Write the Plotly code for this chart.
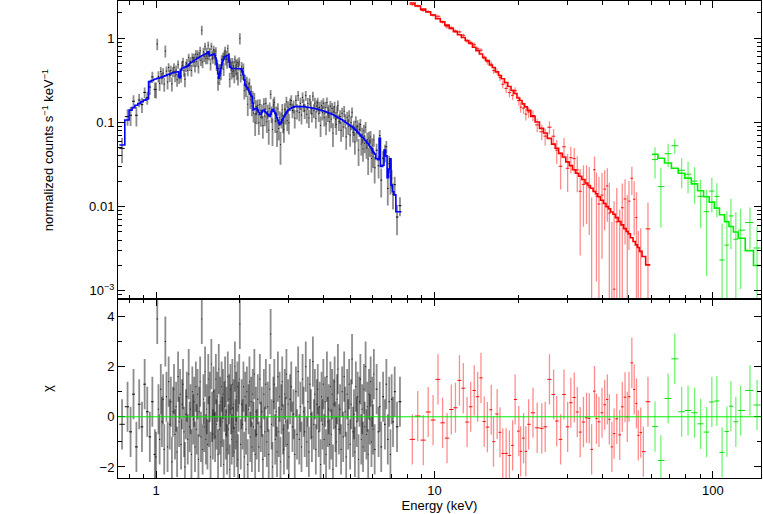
import numpy as np
import plotly.graph_objects as go
from plotly.subplots import make_subplots

# ---- low-energy instrument (black data, blue model)
black_energy = [
    0.755, 0.79, 0.81, 0.83, 0.85, 0.87, 0.89, 0.91, 0.93, 0.95, 0.97, 0.99,
    1.00, 1.01, 1.02, 1.03, 1.04, 1.05, 1.06, 1.07, 1.08, 1.09,
    1.10, 1.11, 1.12, 1.13, 1.14, 1.15, 1.16, 1.17, 1.18, 1.19,
    1.20, 1.21, 1.22, 1.23, 1.24, 1.25, 1.26, 1.27, 1.28, 1.29,
    1.30, 1.31, 1.32, 1.33, 1.34, 1.35, 1.36, 1.37, 1.38, 1.39,
    1.40, 1.41, 1.42, 1.43, 1.44, 1.45, 1.46, 1.47, 1.48, 1.49,
    1.50, 1.51, 1.52, 1.53, 1.54, 1.55, 1.56, 1.57, 1.58, 1.59,
    1.60, 1.61, 1.62, 1.63, 1.64, 1.65, 1.66, 1.67, 1.68, 1.69,
    1.70, 1.71, 1.72, 1.73, 1.74, 1.75, 1.76, 1.77, 1.78, 1.79,
    1.80, 1.81, 1.82, 1.83, 1.84, 1.85, 1.86, 1.87, 1.88, 1.89,
    1.90, 1.91, 1.92, 1.93, 1.94, 1.95, 1.96, 1.97, 1.98, 1.99,
    2.00,
    2.015, 2.03, 2.045, 2.06, 2.075, 2.09, 2.105, 2.12, 2.135, 2.15,
    2.165, 2.18, 2.195, 2.21, 2.225, 2.24, 2.255, 2.27, 2.285, 2.30,
    2.32, 2.34, 2.36, 2.38, 2.40, 2.42, 2.44, 2.46, 2.48, 2.50,
    2.52, 2.54, 2.56, 2.58, 2.60, 2.62, 2.64, 2.66, 2.68, 2.70,
    2.72, 2.74, 2.76, 2.78, 2.80, 2.82, 2.84, 2.86, 2.88, 2.90,
    2.92, 2.94, 2.96, 2.98, 3.00,
    3.03, 3.06, 3.09, 3.12, 3.15, 3.18, 3.21, 3.24, 3.27, 3.30,
    3.33, 3.36, 3.39, 3.42, 3.45, 3.48, 3.51, 3.54, 3.57, 3.60,
    3.63, 3.66, 3.69, 3.72, 3.75, 3.78, 3.81, 3.84, 3.87, 3.90,
    3.93, 3.96, 3.99, 4.02, 4.05, 4.08, 4.11, 4.14, 4.17, 4.20,
    4.23, 4.26, 4.29, 4.32, 4.35, 4.38, 4.41, 4.44, 4.47, 4.50,
    4.54, 4.58, 4.62, 4.66, 4.70, 4.74, 4.78, 4.82, 4.86, 4.90,
    4.94, 4.98, 5.02, 5.06, 5.10, 5.14, 5.18, 5.22, 5.26, 5.30,
    5.34, 5.38, 5.42, 5.46, 5.50, 5.54, 5.58, 5.62, 5.66, 5.70,
    5.74, 5.78, 5.82, 5.86, 5.90, 5.94, 5.98, 6.02, 6.06, 6.10,
    6.20, 6.30, 6.36, 6.44, 6.54, 6.64, 6.72, 6.80, 6.88, 6.95,
    7.02, 7.10, 7.20, 7.34, 7.52,
]
black_model = [
    0.054, 0.107, 0.14, 0.15, 0.16, 0.168, 0.176, 0.184, 0.19, 0.305, 0.315, 0.325,
    0.330, 0.333, 0.336, 0.339, 0.342, 0.345, 0.350, 0.354, 0.359, 0.363,
    0.368, 0.372, 0.376, 0.380, 0.384, 0.388, 0.391, 0.394, 0.397, 0.399,
    0.400, 0.350, 0.340, 0.420, 0.440, 0.444, 0.448, 0.452, 0.456, 0.460,
    0.470, 0.485, 0.500, 0.508, 0.516, 0.525, 0.533, 0.541, 0.550, 0.559,
    0.568, 0.577, 0.586, 0.595, 0.605, 0.612, 0.619, 0.626, 0.633, 0.640,
    0.646, 0.653, 0.660, 0.675, 0.690, 0.650, 0.620, 0.625, 0.630, 0.635,
    0.640, 0.645, 0.650, 0.620, 0.580, 0.500, 0.440, 0.380, 0.335, 0.360,
    0.400, 0.440, 0.480, 0.510, 0.540, 0.570, 0.600, 0.605, 0.610, 0.615,
    0.620, 0.625, 0.630, 0.540, 0.460, 0.450, 0.445, 0.440, 0.440, 0.440,
    0.440, 0.440, 0.440, 0.440, 0.440, 0.440, 0.440, 0.440, 0.440, 0.440,
    0.440,
    0.435, 0.425, 0.400, 0.370, 0.320, 0.280, 0.270, 0.260, 0.250, 0.243,
    0.232, 0.220, 0.210, 0.203, 0.170, 0.141, 0.143, 0.145, 0.147, 0.148,
    0.140, 0.132, 0.124, 0.126, 0.132, 0.139, 0.140, 0.136, 0.132, 0.129,
    0.125, 0.121, 0.118, 0.125, 0.135, 0.142, 0.143, 0.136, 0.129, 0.122,
    0.114, 0.106, 0.099, 0.095, 0.096, 0.101, 0.107, 0.111, 0.116, 0.121,
    0.126, 0.131, 0.135, 0.139, 0.142,
    0.145, 0.148, 0.150, 0.152, 0.154, 0.155, 0.156, 0.157, 0.157, 0.157,
    0.156, 0.156, 0.155, 0.154, 0.153, 0.152, 0.151, 0.151, 0.150, 0.149,
    0.148, 0.147, 0.146, 0.146, 0.145, 0.144, 0.143, 0.142, 0.141, 0.140,
    0.139, 0.138, 0.137, 0.136, 0.135, 0.134, 0.132, 0.131, 0.130, 0.129,
    0.127, 0.126, 0.125, 0.124, 0.122, 0.121, 0.119, 0.118, 0.116, 0.115,
    0.113, 0.111, 0.109, 0.107, 0.105, 0.103, 0.101, 0.099, 0.097, 0.096,
    0.094, 0.092, 0.090, 0.089, 0.087, 0.085, 0.083, 0.081, 0.079, 0.077,
    0.075, 0.073, 0.071, 0.069, 0.067, 0.066, 0.064, 0.062, 0.061, 0.059,
    0.057, 0.056, 0.054, 0.052, 0.051, 0.049, 0.047, 0.045, 0.044, 0.042,
    0.037, 0.036, 0.065, 0.030, 0.031, 0.047, 0.040, 0.022, 0.028, 0.037,
    0.018, 0.015, 0.0138, 0.0087, 0.0087,
]
black_chi = [
    -0.3, 0.4, -0.6, 0.9, -1.2, 0.5, -0.4, 1.3, 0.2, -0.8, 0.6, -1.5,
    -1.6, 3.9, 0.3, -0.9, 1.1, -0.2, 0.7, -1.3, 3.0, 0.8,
    -1.2, 1.4, -0.3, 0.6, -1.8, 0.2, 1.1, -0.7, 0.4, -1.4,
    1.6, -0.2, 0.9, -1.1, 0.5, 1.3, -0.6, -2.0, 0.1, 0.8,
    -0.9, 1.7, -0.4, 0.3, -1.5, 1.0, -0.1, 0.6, -1.2, 1.2,
    -0.5, 0.9, -1.7, 0.2, 1.4, -0.8, 3.9, -1.3, 0.7, -0.4,
    1.8, -0.9, 0.3, -1.1, 1.5, -0.2, 0.8, -1.6, 2.1, 0.0,
    -0.7, 1.0, 0.1, -0.8, 1.5, -0.3, 0.8, -1.5, 1.9, -0.5,
    0.6, -1.0, 1.2, -0.2, 0.9, -1.9, 0.4, 1.4, -0.7, 0.2,
    -1.3, 1.6, -0.5, 0.7, -2.1, 1.1, 0.3, -0.9, 1.3, -0.6,
    0.5, -1.4, 2.0, -0.3, 0.8, -1.0, 1.2, -1.7, 0.4, 1.5,
    3.7,
    -1.1, 0.5, -0.3, 1.2, -1.6, 0.8, -0.5, 1.0, -1.9, 0.3,
    1.4, -0.8, 0.6, -1.2, 0.9, -0.4, 1.7, -1.5, 0.2, -0.7,
    0.7, -1.2, 1.5, -0.4, 0.2, -1.7, 0.9, -0.6, 1.3, -1.0,
    0.4, -1.5, 1.1, 3.3, -0.3, -2.0, 0.6, 1.3, -0.9, 0.2,
    -1.4, 1.6, -0.6, 0.8, -1.8, 0.3, 1.4, -0.5, -1.3, 0.9,
    -0.2, 1.7, -1.1, 0.5, -1.6,
    0.7, 1.2, -0.4, 0.1, -1.5, 1.0, -0.7, 1.8, -0.9, 0.4,
    -1.2, 1.5, 0.2, -0.6, 2.0, -1.0, 0.6, -1.4, 1.3, 0.1,
    -0.8, 2.2, -0.3, 0.9, -1.3, 0.5, 1.1, -0.6, 0.4, -1.9,
    0.8, -0.3, 1.3, -0.9, 0.6, -1.5, 1.6, -0.2, 0.3, -1.1,
    1.2, -0.7, 0.9, -2.1, 0.5, 1.4, -0.4, -1.0, 0.7, 1.9,
    -0.5, 0.3, -1.3, 1.0, -0.8, 1.6, 0.2, -1.6, 0.9, -0.3,
    1.3, -1.1, 0.5, 2.3, -0.6, 0.1, -1.4, 1.2, -0.2, 0.8,
    -1.7, 0.6, 1.5, -0.9, 0.3, -1.2, 1.1, -0.4, 2.0, -0.7,
    0.4, -1.5, 0.9, -0.1, 1.4, -1.0, 0.6, -0.5, 1.7, -1.3,
    1.1, -0.6, 0.4, -1.2, 0.8, -0.3, 1.3, -0.9, 0.6, -1.5,
    0.7, -0.2, 1.0, -0.4, 0.6,
]
black_relerr = [
    0.30, 0.24, 0.22, 0.21, 0.20, 0.20, 0.19, 0.18, 0.18, 0.17, 0.17, 0.16,
    0.16, 0.40, 0.16, 0.16, 0.16, 0.15, 0.15, 0.15, 0.32, 0.15,
    0.15, 0.15, 0.15, 0.15, 0.14, 0.14, 0.14, 0.14, 0.14, 0.14,
    0.14, 0.15, 0.15, 0.14, 0.14, 0.14, 0.14, 0.14, 0.14, 0.13,
    0.13, 0.13, 0.13, 0.13, 0.13, 0.13, 0.13, 0.13, 0.13, 0.13,
    0.13, 0.13, 0.13, 0.13, 0.13, 0.13, 0.26, 0.13, 0.13, 0.13,
    0.13, 0.13, 0.13, 0.13, 0.13, 0.13, 0.13, 0.13, 0.13, 0.13,
    0.13, 0.13, 0.13, 0.13, 0.14, 0.14, 0.15, 0.15, 0.16, 0.15,
    0.15, 0.14, 0.14, 0.14, 0.13, 0.13, 0.13, 0.13, 0.13, 0.13,
    0.13, 0.13, 0.13, 0.14, 0.14, 0.14, 0.14, 0.14, 0.14, 0.14,
    0.14, 0.14, 0.14, 0.14, 0.14, 0.14, 0.14, 0.14, 0.14, 0.14,
    0.34,
    0.15, 0.15, 0.15, 0.16, 0.16, 0.17, 0.17, 0.17, 0.18, 0.18,
    0.18, 0.19, 0.19, 0.19, 0.20, 0.21, 0.21, 0.21, 0.21, 0.21,
    0.20, 0.21, 0.21, 0.21, 0.20, 0.20, 0.20, 0.21, 0.21, 0.21,
    0.21, 0.22, 0.22, 0.22, 0.21, 0.21, 0.21, 0.21, 0.22, 0.22,
    0.23, 0.23, 0.24, 0.24, 0.24, 0.23, 0.23, 0.22, 0.22, 0.21,
    0.21, 0.20, 0.20, 0.19, 0.19,
    0.19, 0.19, 0.18, 0.18, 0.18, 0.18, 0.18, 0.18, 0.18, 0.18,
    0.18, 0.18, 0.18, 0.18, 0.18, 0.18, 0.18, 0.18, 0.18, 0.18,
    0.18, 0.18, 0.18, 0.18, 0.18, 0.18, 0.18, 0.18, 0.18, 0.18,
    0.18, 0.18, 0.18, 0.18, 0.19, 0.19, 0.19, 0.19, 0.19, 0.19,
    0.19, 0.19, 0.19, 0.19, 0.19, 0.19, 0.20, 0.20, 0.20, 0.20,
    0.20, 0.20, 0.20, 0.20, 0.20, 0.20, 0.20, 0.20, 0.20, 0.20,
    0.21, 0.21, 0.21, 0.21, 0.21, 0.21, 0.21, 0.21, 0.21, 0.21,
    0.22, 0.22, 0.22, 0.22, 0.22, 0.22, 0.22, 0.22, 0.22, 0.22,
    0.23, 0.23, 0.23, 0.23, 0.23, 0.24, 0.24, 0.24, 0.24, 0.24,
    0.24, 0.25, 0.18, 0.26, 0.26, 0.22, 0.22, 0.28, 0.27, 0.25,
    0.30, 0.32, 0.32, 0.34, 0.30,
]

# ---- mid-energy instrument (red)
red_energy = [
    8.33, 8.71, 9.12, 9.50, 9.89, 10.3, 10.7, 11.1, 11.5, 11.9,
    12.3, 12.7, 13.1, 13.5, 13.9, 14.3, 14.7, 15.1, 15.5, 16.0,
    16.3, 16.8, 17.2, 17.6, 18.1, 18.6, 19.1, 19.5, 20.1, 20.4,
    20.9, 21.3, 21.8, 22.6, 23.4, 24.3, 25.0, 25.9, 26.8, 27.5,
    28.4, 29.2, 30.1, 30.9, 31.8, 32.6, 33.4, 34.3, 35.2, 36.0,
    36.7, 37.6, 38.2, 39.0, 40.0, 40.9, 41.8, 42.5, 43.4, 44.2,
    45.2, 46.3, 47.3, 48.4, 49.3, 50.0, 51.2, 52.2, 53.2, 54.0,
    55.1, 56.3, 58.5,
]
red_model = [
    2.62, 2.42, 2.22, 2.06, 1.89, 1.71, 1.57, 1.43, 1.31, 1.20,
    1.10, 1.02, 0.94, 0.867, 0.783, 0.713, 0.649, 0.590, 0.542, 0.482,
    0.449, 0.399, 0.361, 0.330, 0.297, 0.267, 0.240, 0.221, 0.195, 0.182,
    0.166, 0.153, 0.139, 0.118, 0.101, 0.0849, 0.075, 0.0646, 0.0553, 0.0494,
    0.0429, 0.0389, 0.034, 0.0307, 0.0274, 0.0249, 0.0229, 0.021, 0.0191, 0.0178,
    0.0165, 0.0151, 0.0142, 0.0131, 0.0119, 0.0109, 0.0100, 0.00944, 0.00863, 0.0081,
    0.0074, 0.00664, 0.00606, 0.00548, 0.00506, 0.00476, 0.00427, 0.00385, 0.00351, 0.00327,
    0.00294, 0.00255, 0.00203,
]
red_chi = [
    -0.90, 0.03, -0.93, 0.19, -0.13, 1.49, -0.24, -0.85, 0.29, 0.36,
    1.45, 1.14, -0.21, 0.40, 1.05, 0.80, 1.55, -0.19, -0.41, 0.28,
    -0.99, 0.11, -0.62, -1.46, -1.46, -1.54, -1.14, 0.69, -0.57, -1.38,
    -0.85, -1.38, -0.30, 0.16, -0.44, -0.46, -0.40, 1.49, 0.89, -0.17,
    -0.90, 0.89, -0.40, 0.56, 0.77, 0.19, -0.61, -0.21, -0.04, -0.06,
    -1.30, 1.02, -0.07, -0.20, 0.16, 0.48, 0.69, -0.10, -1.20, -0.67,
    -0.08, -0.72, 0.40, 0.78, 0.00, 0.80, 2.15, 1.09, 0.53, -0.74,
    -0.63, -1.39, 0.60,
]
red_relerr = [
    0.04, 0.04, 0.04, 0.04, 0.04, 0.045, 0.045, 0.05, 0.05, 0.05,
    0.055, 0.055, 0.06, 0.06, 0.065, 0.065, 0.07, 0.07, 0.075, 0.08,
    0.08, 0.085, 0.09, 0.095, 0.10, 0.10, 0.11, 0.11, 0.12, 0.12,
    0.13, 0.13, 0.14, 0.15, 0.17, 0.19, 0.21, 0.24, 0.27, 0.30,
    0.33, 0.36, 0.40, 0.43, 0.46, 0.50, 0.55, 0.60, 0.65, 0.70,
    0.75, 0.80, 0.85, 0.90, 0.95, 1.0, 1.1, 1.15, 1.2, 1.3,
    1.35, 1.4, 1.5, 1.6, 1.7, 1.8, 1.9, 2.0, 2.1, 2.2,
    2.4, 2.6, 2.8,
]

# ---- high-energy instrument (green)
green_energy = [62.0, 65.1, 69.1, 73.0, 77.3, 81.5, 86.0, 90.4, 95.0,
                99.2, 103.4, 108.0, 112.4, 116.2, 121.0, 125.8, 136.0, 144.2]
green_model = [0.0419, 0.0375, 0.0329, 0.0285, 0.0249, 0.0218, 0.0186, 0.0154, 0.0131,
               0.0113, 0.0096, 0.0080, 0.0066, 0.0058, 0.0050, 0.0042, 0.0030, 0.0020]
green_chi = [-0.39, -1.74, 0.73, 2.31, 0.20, 0.25, 0.16, -0.28, -0.61,
             0.59, 0.63, -1.42, -0.59, 0.42, -0.20, 0.25, 1.05, 0.47]
green_relerr = [0.35, 0.31, 0.40, 0.37, 0.42, 0.45, 0.50, 0.50, 0.55,
                0.60, 0.60, 0.50, 0.80, 0.80, 0.90, 1.00, 1.10, 1.30]

DATASETS = [
    # energy, model, chi, relerr, bar colour, bar width, cross colour, model colour
    (black_energy, black_model, black_chi, black_relerr,
     "rgba(0,0,0,0.45)", 1.8, "rgba(0,0,0,0.95)", "#0000ff"),
    (red_energy, red_model, red_chi, red_relerr,
     "rgba(255,0,0,0.45)", 1.3, "rgba(255,0,0,0.95)", "#ff0000"),
    (green_energy, green_model, green_chi, green_relerr,
     "rgba(0,235,0,0.55)", 1.3, "rgba(0,220,0,0.95)", "#00ee00"),
]

FONT = dict(family="Liberation Sans, Arial, Helvetica, sans-serif", size=13, color="black")


def bin_edges(energy):
    e = np.asarray(energy, dtype=float)
    mid = np.sqrt(e[:-1] * e[1:])
    lo = np.concatenate([[e[0] ** 2 / mid[0]], mid])
    hi = np.concatenate([mid, [e[-1] ** 2 / mid[-1]]])
    return lo, hi


def segments(x0, y0, x1, y1):
    xs, ys = [], []
    for a, b, c, d in zip(x0, y0, x1, y1, strict=True):
        if b is None or d is None:
            continue
        xs += [a, c, None]
        ys += [b, d, None]
    return xs, ys


def step_line(lo, hi, values):
    xs, ys = [], []
    for a, b, v in zip(lo, hi, values, strict=True):
        xs += [a, b]
        ys += [v, v]
    return xs, ys


def line_trace(xs, ys, color, width):
    return go.Scatter(x=xs, y=ys, mode="lines", line=dict(color=color, width=width),
                      hoverinfo="skip", showlegend=False)


fig = make_subplots(rows=2, cols=1, shared_xaxes=True, vertical_spacing=0,
                    row_heights=[0.625, 0.375])

for energy, model, chi, relerr, bar_col, bar_w, cross_col, model_col in DATASETS:
    e = np.asarray(energy, dtype=float)
    m = np.asarray(model, dtype=float)
    c = np.asarray(chi, dtype=float)
    r = np.asarray(relerr, dtype=float)
    assert len(e) == len(m) == len(c) == len(r)
    lo, hi = bin_edges(e)

    sigma = m * r
    data = m + c * sigma
    upper = data + sigma
    lower = np.clip(data - sigma, 1e-6, None)

    # top panel: vertical error bars, bin-width bars, model histogram
    vx, vy = segments(e, lower, e, [u if u > 0 else None for u in upper])
    fig.add_trace(line_trace(vx, vy, bar_col, bar_w), row=1, col=1)
    hy = [d if d > 0 else None for d in data]
    hx, hy = segments(lo, hy, hi, hy)
    fig.add_trace(line_trace(hx, hy, cross_col, 1), row=1, col=1)
    sx, sy = step_line(lo, hi, m)
    fig.add_trace(line_trace(sx, sy, model_col, 1.6), row=1, col=1)

    # bottom panel: residuals in units of sigma
    vx, vy = segments(e, c - 1, e, c + 1)
    fig.add_trace(line_trace(vx, vy, bar_col, bar_w), row=2, col=1)
    hx, hy = segments(lo, c, hi, c)
    fig.add_trace(line_trace(hx, hy, cross_col, 1), row=2, col=1)

fig.add_hline(y=0, line_color="#00ee00", line_width=1, row=2, col=1)

axis_common = dict(
    showline=True, linecolor="black", linewidth=1, mirror="allticks",
    ticks="inside", ticklen=7, tickcolor="black", tickwidth=1,
    showgrid=False, zeroline=False, tickfont=FONT, automargin=False,
)
minor_common = dict(ticks="inside", ticklen=4, tickcolor="black", tickwidth=1, showgrid=False)

x_range = [np.log10(0.730), np.log10(149.0)]
fig.update_xaxes(type="log", range=x_range, tickmode="linear", tick0=0, dtick=1,
                 minor=minor_common, **axis_common)
fig.update_xaxes(showticklabels=False, row=1, col=1)
fig.update_xaxes(title=dict(text="Energy (keV)", font=FONT, standoff=4), row=2, col=1)

log_minor = [k * 10.0 ** d for d in range(-4, 1) for k in range(2, 10)]
fig.update_yaxes(type="log", range=[np.log10(7.96e-4), np.log10(2.77)],
                 tickmode="array", tickvals=[0.001, 0.01, 0.1, 1],
                 ticktext=["10<sup>\u22123</sup>", "0.01", "0.1", "1"],
                 minor=dict(tickmode="array", tickvals=log_minor, **minor_common),
                 title=dict(text="normalized counts s<sup>\u22121</sup> keV<sup>\u22121</sup>",
                            font=FONT, standoff=32),
                 row=1, col=1, **axis_common)
fig.update_yaxes(range=[-2.44, 4.69], tickmode="array", tickvals=[-2, 0, 2, 4],
                 minor=dict(tickmode="linear", tick0=0, dtick=1, **minor_common),
                 title=dict(text="\u03c7", font=FONT, standoff=44),
                 row=2, col=1, **axis_common)

fig.update_layout(
    width=763, height=514,
    margin=dict(l=118, r=2, t=1, b=36),
    paper_bgcolor="white", plot_bgcolor="white",
    font=FONT, showlegend=False,
)

# page body has a default 8px margin; drop it so the figure sits at the window origin
fig.write_html("out.html", config={"displayModeBar": False},
               post_script="document.body.style.margin = '0';")
